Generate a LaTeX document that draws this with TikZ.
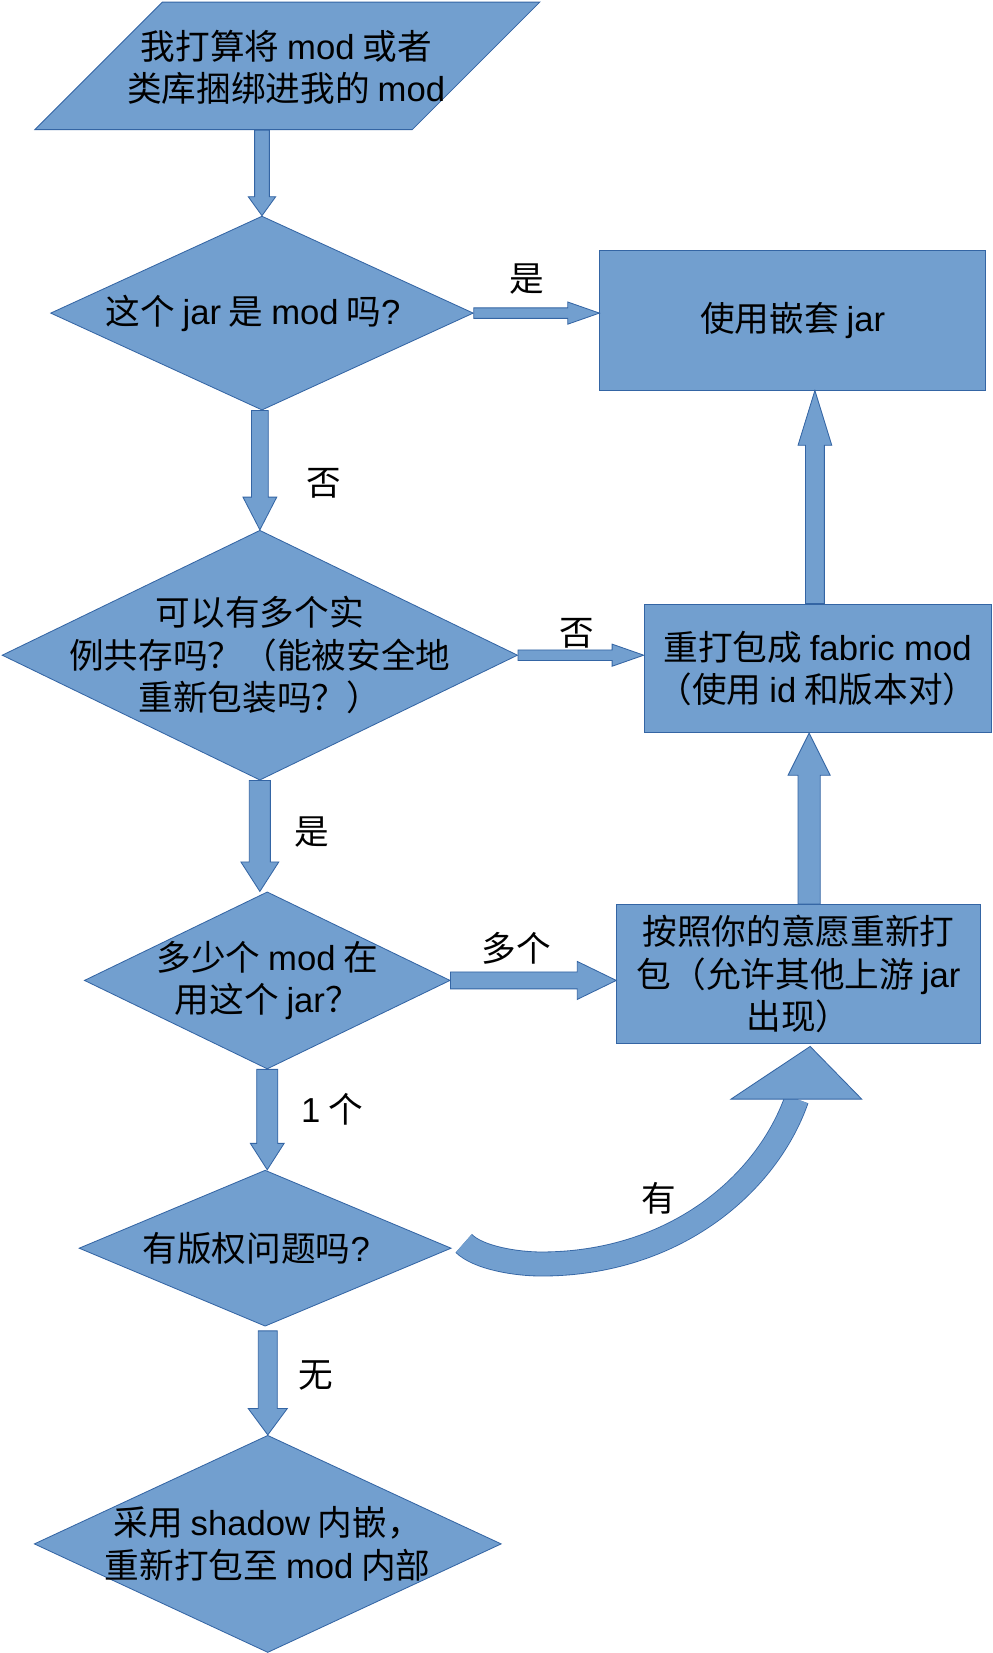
\documentclass[tikz,border=0pt]{standalone}
\usepackage{fontspec}
\setmainfont{Noto Sans CJK SC}
\newfontfamily\lat{Liberation Sans}
\usetikzlibrary{shapes.geometric,calc}
\definecolor{boxfill}{HTML}{729FCF}
\definecolor{boxline}{HTML}{3465A4}

\newcommand{\fatarrow}[5]{%
  \coordinate (fa-h) at ($(#2)!#5!(#1)$);
  \filldraw[fat] ($(#1)!#3!90:(#2)$) -- ($(fa-h)!#3!90:(#2)$)
    -- ($(fa-h)!#4!90:(#2)$) -- (#2) -- ($(fa-h)!#4!-90:(#2)$)
    -- ($(fa-h)!#3!-90:(#2)$) -- ($(#1)!#3!-90:(#2)$) -- cycle;}

\begin{document}
\begin{tikzpicture}[x=1bp, y=-1bp,
  every node/.style={font=\fontsize{33}{40.5}\selectfont, align=center, inner sep=0pt},
  blk/.style={fill=boxfill, draw=boxline, line width=0.8bp},
  io/.style={blk, trapezium, trapezium left angle=45, trapezium right angle=135,
    trapezium stretches body=true},
  decision/.style={blk, diamond},
  proc/.style={blk, rectangle},
  fat/.style={fill=boxfill, draw=boxline, line width=0.8bp, line join=miter},
  lbl/.style={font=\fontsize{33}{36}\selectfont}]
  \path[fill=white, use as bounding box] (0,0) rectangle (941,1568);

  \node[io, inner ysep=60.5bp, minimum width=479bp] (plan) at (272.5,62.5) {};
  \node (plan-t) at (271.5,64) {我打算将 {\lat mod} 或者\\类库捆绑进我的 {\lat mod}};
  \node[decision, minimum width=401bp, minimum height=184bp] (isMod) at (248.5,297) {};
  \node (isMod-t) at (240,297) {这个 {\lat jar} 是 {\lat mod} 吗{\lat ?}};
  \node[proc, minimum width=366bp, minimum height=132bp] (nested) at (752,304)
    {使用嵌套 {\lat jar}};
  \node[decision, minimum width=489bp, minimum height=237bp] (coexist) at (246.5,621.5) {};
  \node (coexist-t) at (coexist) {可以有多个实\\例共存吗？（能被安全地\\重新包装吗？）};
  \node[proc, minimum width=329bp, minimum height=122bp] (fabric) at (775.5,634)
    {重打包成 {\lat fabric mod}\\（使用 {\lat id} 和版本对）};
  \node[decision, minimum width=347bp, minimum height=168bp] (howMany) at (253.5,930) {};
  \node (howMany-t) at (howMany) {多少个 {\lat mod} 在\\用这个 {\lat jar}？};
  \node[proc, minimum width=345bp, minimum height=132bp] (repack) at (757.5,924)
    {按照你的意愿重新打\\包（允许其他上游 {\lat jar}\\出现）};
  \node[decision, minimum width=353bp, minimum height=148bp] (copyright) at (251.5,1184) {};
  \node (copyright-t) at (243,1184) {有版权问题吗{\lat ?}};
  \node[decision, minimum width=443bp, minimum height=206bp] (shadow) at (254,1464.5) {};
  \node (shadow-t) at (shadow) {采用 {\lat shadow} 内嵌，\\重新打包至 {\lat mod} 内部};

  \fatarrow{plan.south -| isMod.north}{isMod.north}{7bp}{13bp}{18bp}
  \fatarrow{isMod.east}{isMod.east -| nested.west}{5bp}{10.5bp}{30bp}
  \fatarrow{isMod.south -| coexist.north}{coexist.north}{8bp}{16bp}{31bp}
  \fatarrow{coexist.east}{coexist.east -| fabric.west}{5bp}{10.5bp}{30bp}
  \fatarrow{coexist.south}{coexist.south |- howMany.north}{10bp}{18bp}{28bp}
  \fatarrow{howMany.east}{howMany.east -| repack.west}{8bp}{18bp}{37bp}
  \coordinate (up1) at ($(repack.north)+(10,0)$);
  \fatarrow{up1}{up1 |- fabric.south}{10.5bp}{20bp}{40bp}
  \coordinate (up2) at ($(fabric.north)+(-2.5,0)$);
  \fatarrow{up2}{up2 |- nested.south}{9bp}{16bp}{52bp}
  \fatarrow{howMany.south}{howMany.south |- copyright.north}{10bp}{16bp}{25bp}
  \coordinate (dn) at ($(copyright.south)+(2.5,4)$);
  \fatarrow{dn}{dn |- shadow.north}{9bp}{18.5bp}{25bp}

  \coordinate (c-s) at ($(copyright.east)+(11.5,-4.6)$);
  \coordinate (c-b) at ($(c-s)+(73.5,19.6)$);
  \coordinate (c-e) at ($(repack.south)+(-1.8,52.2)$);
  \draw[line width=23.6bp, boxline] (c-s) .. controls +(14,14) and +(-23,0) .. (c-b)
    .. controls +(127,0) and +(-28,80) .. (c-e);
  \draw[line width=22bp, boxfill] (c-s) .. controls +(14,14) and +(-23,0) .. (c-b)
    .. controls +(127,0) and +(-28,80) .. (c-e);
  \filldraw[fat] ($(c-e)+(-62.3,0)$) -- ($(repack.south)+(11,2.2)$)
    -- ($(c-e)+(61.7,0)$) -- cycle;

  \node[lbl] (l-yes1) at (500,265) {是};
  \node[lbl] (l-no1) at (307,458) {否};
  \node[lbl] (l-no2) at (547,601) {否};
  \node[lbl] (l-yes2) at (296,789) {是};
  \node[lbl] (l-many) at (490,900) {多个};
  \node[lbl] (l-one) at (315,1052) {{\lat 1} 个};
  \node[lbl] (l-has) at (625,1137) {有};
  \node[lbl] (l-none) at (300,1305) {无};
\end{tikzpicture}
\end{document}
